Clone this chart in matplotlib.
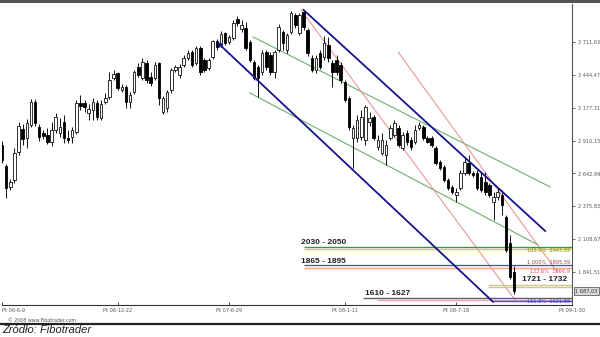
import matplotlib
matplotlib.use("Agg")
import matplotlib.pyplot as plt
from matplotlib.lines import Line2D
import numpy as np

# weekly candles, WIG20, from Pt 06-6-9
opens = [2874, 2703, 2533, 2590, 2817, 3004, 2931, 3037, 3224, 3020,
         2972, 2955, 2898, 2996, 2972, 3061, 2931, 2939, 2980, 3216,
         3216, 3134, 3159, 3216, 3094, 3224, 3264, 3419, 3459, 3321,
         3346, 3224, 3305, 3508, 3419, 3541, 3427, 3419, 3541, 3142,
         3175, 3321, 3484, 3443, 3525, 3581, 3630, 3541, 3663, 3565,
         3500, 3590, 3720, 3687, 3785, 3712, 3744, 3899, 3817, 3825,
         3712, 3549, 3508, 3468, 3630, 3606, 3468, 3646, 3793, 3646,
         3793, 3931, 3785, 3955, 3809, 3581, 3484, 3622, 3590, 3687,
         3541, 3565, 3525, 3386, 3256, 2931, 2931, 2939, 2915, 3061,
         3102, 2858, 2809, 2793, 2931, 2955, 3012, 2850, 2972, 2915,
         2898, 3012, 3020, 2931, 2931, 2850, 2736, 2695, 2590, 2533,
         2468, 2525, 2647, 2728, 2647, 2647, 2614, 2573, 2549, 2411,
         2451, 2468, 2289, 2077, 1842]
highs = [2907, 2720, 2598, 2850, 3061, 3045, 3086, 3248, 3248, 3045,
         2996, 3012, 3061, 3134, 3094, 3118, 2996, 3020, 3240, 3281,
         3240, 3208, 3256, 3240, 3240, 3297, 3468, 3484, 3468, 3370,
         3362, 3305, 3484, 3541, 3581, 3565, 3468, 3549, 3549, 3272,
         3321, 3500, 3525, 3533, 3606, 3646, 3646, 3679, 3679, 3581,
         3581, 3728, 3736, 3801, 3793, 3768, 3890, 3923, 3890, 3874,
         3728, 3565, 3525, 3646, 3646, 3630, 3646, 3858, 3809, 3785,
         3964, 3947, 3947, 3972, 3825, 3606, 3606, 3646, 3760, 3752,
         3565, 3606, 3549, 3403, 3272, 3037, 3118, 3159, 3199, 3142,
         3118, 2955, 2972, 2915, 3037, 3077, 3037, 2980, 2996, 2939,
         3037, 3061, 3037, 2947, 2947, 2866, 2752, 2712, 2606, 2549,
         2525, 2671, 2768, 2793, 2663, 2671, 2655, 2655, 2565, 2492,
         2525, 2508, 2305, 2142, 1890]
lows = [2728, 2443, 2508, 2565, 2793, 2874, 2850, 3020, 3029, 2907,
        2923, 2882, 2866, 2972, 2939, 2890, 2890, 2890, 2964, 3159,
        3142, 3077, 3077, 3077, 3077, 3208, 3248, 3403, 3321, 3305,
        3175, 3175, 3289, 3427, 3403, 3378, 3354, 3403, 3199, 3126,
        3142, 3297, 3468, 3419, 3508, 3565, 3508, 3525, 3443, 3468,
        3484, 3573, 3646, 3671, 3687, 3695, 3728, 3842, 3793, 3646,
        3549, 3403, 3264, 3443, 3484, 3443, 3419, 3630, 3646, 3622,
        3777, 3825, 3768, 3809, 3598, 3468, 3459, 3492, 3565, 3549,
        3346, 3443, 3378, 3224, 2996, 2687, 2898, 2915, 2874, 3029,
        2915, 2833, 2793, 2712, 2915, 2939, 2858, 2833, 2874, 2833,
        2882, 2996, 2915, 2890, 2858, 2712, 2671, 2573, 2508, 2476,
        2411, 2508, 2630, 2630, 2614, 2508, 2492, 2468, 2451, 2264,
        2427, 2305, 2004, 1785, 1660]
closes = [2752, 2525, 2573, 2809, 3029, 2923, 3053, 3224, 3053, 2939,
          2947, 2898, 2996, 3102, 3020, 2931, 2915, 2996, 3216, 3191,
          3183, 3167, 3224, 3102, 3208, 3256, 3403, 3451, 3338, 3346,
          3224, 3281, 3468, 3443, 3549, 3403, 3378, 3525, 3256, 3256,
          3305, 3484, 3508, 3508, 3581, 3622, 3525, 3663, 3468, 3484,
          3565, 3720, 3671, 3777, 3703, 3752, 3866, 3866, 3850, 3663,
          3565, 3419, 3419, 3622, 3508, 3468, 3630, 3833, 3703, 3768,
          3947, 3850, 3931, 3833, 3622, 3484, 3581, 3508, 3703, 3581,
          3468, 3468, 3403, 3240, 3020, 3012, 3077, 3102, 3183, 3094,
          2931, 2915, 2915, 2874, 3012, 3053, 2874, 2955, 2898, 2858,
          2996, 3037, 2931, 2898, 2874, 2728, 2687, 2590, 2525, 2492,
          2492, 2647, 2736, 2647, 2630, 2525, 2508, 2492, 2468, 2451,
          2492, 2386, 2020, 1801, 1687.03]

x_tick_pos = [0, 28, 55, 83, 110, 138]
x_tick_labels = ["Pt 06-6-9", "Pt 06-12-22", "Pt 07-6-29", "Pt 08-1-11", "Pt 08-7-18", "Pt 09-1-30"]
y_ticks = [1841.51, 2108.67, 2375.83, 2642.99, 2910.15, 3177.31, 3444.47, 3711.63]
y_tick_labels = ["1 841,51", "2 108,67", "2 375,83", "2 642,99", "2 910,15", "3 177,31", "3 444,47", "3 711,63"]
last_price = 1687.03

# trend lines: (week, price) start and end
blue_upper = [(73, 3972), (131.5, 2175)]
blue_lower = [(52, 3712), (118.9, 1598)]
green_upper = [(60.8, 3752), (132.7, 2533)]
green_lower = [(60, 3297), (129.8, 2061)]
red_first = [(72.4, 3972), (124.2, 1614)]
red_second = [(95.9, 3630), (134.4, 1842)]

# fibo zones
zone_labels = ["2030 - 2050", "1865 - 1895", "1721 - 1732", "1610 - 1627"]
zone_label_pos = [(72.5, 2055), (72.5, 1902), (125.8, 1752), (87.8, 1637)]

fig = plt.figure(figsize=(6, 3.37), dpi=100)
ax = fig.add_axes([2 / 600, 32 / 337, 570 / 600, 301 / 337])
ax.set_xlim(0, 138)
ax.set_ylim(1573, 4020)

weeks = np.arange(len(closes))
o = np.array(opens, dtype=float)
c = np.array(closes, dtype=float)
up = c >= o
ax.vlines(weeks, lows, highs, color="#111111", lw=0.7, zorder=3)
ax.bar(weeks[up], (c - o)[up], bottom=o[up], width=0.62, color="white",
       edgecolor="#111111", lw=0.6, zorder=4)
ax.bar(weeks[~up], (c - o)[~up], bottom=o[~up], width=0.62, color="black",
       edgecolor="black", lw=0.6, zorder=4)

navy = "#14148c"
ax.plot(*zip(*blue_upper), color=navy, lw=1.3, zorder=5)
ax.annotate("", xy=blue_lower[1], xytext=blue_lower[0],
            arrowprops=dict(arrowstyle="<-", color=navy, lw=1.3,
                            shrinkA=0, shrinkB=0, mutation_scale=6), zorder=5)
ax.plot(*zip(*green_upper), color="#6fae6f", lw=0.8, zorder=2)
ax.plot(*zip(*green_lower), color="#6fae6f", lw=0.8, zorder=2)
ax.plot(*zip(*red_first), color="#e88a8a", lw=0.7, zorder=2)
ax.plot(*zip(*red_second), color="#e88a8a", lw=0.7, zorder=2)

# horizontal levels
ax.hlines(2045, 73, 138, color="#2e9a4a", lw=1.0, zorder=2)
ax.hlines(2030, 73, 138, color="#d8d040", lw=1.0, zorder=2)
ax.hlines(1898, 73, 138, color="#4050b0", lw=0.9, zorder=2)
ax.hlines(1870, 73, 138, color="#f08060", lw=1.0, zorder=2)
ax.hlines(1874, 73, 138, color="#f4b0a0", lw=0.6, zorder=2)
ax.hlines([1732, 1721], 117.7, 138, color="#c8c890", lw=1.0, zorder=2)
ax.hlines(1628, 87.5, 138, color="#606060", lw=1.0, zorder=2)
ax.hlines(1614, 90.8, 138, color="#f0a0c0", lw=1.0, zorder=2)
ax.hlines(1608, 118.8, 138, color="#5050d0", lw=1.0, zorder=2)

for lab, (xw, yv) in zip(zone_labels, zone_label_pos):
    ax.text(xw, yv, lab, fontsize=6.0, fontweight="bold", family="Liberation Sans",
            color="#222222", ha="left", va="bottom", zorder=6)

ax.text(137.5, 2040, "100.0%  2043.92", fontsize=3.6, color="#7a8a20", ha="right", va="top")
ax.text(137.5, 1899, "1.000%  1895.59", fontsize=3.6, color="#a04040", ha="right", va="bottom")
ax.text(137.5, 1866, "123.6%  1866.9", fontsize=3.6, color="#e05050", ha="right", va="top")
ax.text(137.5, 1605, "161.8%  1621.88", fontsize=3.6, color="#4040c0", ha="right", va="center")

# axes look
for s in ["left", "top"]:
    ax.spines[s].set_visible(False)
ax.spines["bottom"].set_color("#333333")
ax.spines["right"].set_color("#555555")
ax.spines["bottom"].set_linewidth(0.8)
ax.spines["right"].set_linewidth(0.8)
ax.set_xticks(x_tick_pos)
ax.set_xticklabels(x_tick_labels, fontsize=3.6, color="#555555")
ax.get_xticklabels()[0].set_horizontalalignment("left")
ax.tick_params(axis="x", direction="in", length=2, width=0.6, pad=2, color="#333333")
ax.yaxis.tick_right()
ax.set_yticks(y_ticks)
ax.set_yticklabels(y_tick_labels, fontsize=3.6, color="#555555")
ax.tick_params(axis="y", direction="out", length=2, width=0.6, pad=2, color="#555555")
ax.text(1.006, (last_price - 1573) / (4020 - 1573), "1 687,03", transform=ax.transAxes,
        fontsize=3.6, color="#333333", ha="left", va="center",
        bbox=dict(boxstyle="square,pad=0.25", fc="#d8d8d8", ec="#444444", lw=0.5))

# frame lines and footer
fig.add_artist(Line2D([0, 1], [1 - 1.2 / 337] * 2, color="#555555", lw=2.2))
fig.add_artist(Line2D([0, 1], [(337 - 324) / 337] * 2, color="#222222", lw=1.6))
fig.text(8 / 600, 1 - 321 / 337, "\u00a9 2008 www.Fibotrader.com", fontsize=3.4,
         color="#555555", va="center")
fig.text(2 / 600, 1 - 330 / 337, "Źródło: Fibotrader", fontsize=8, style="italic",
         family="Liberation Sans", color="#222222", va="center")

fig.savefig("out.png", dpi=100)
